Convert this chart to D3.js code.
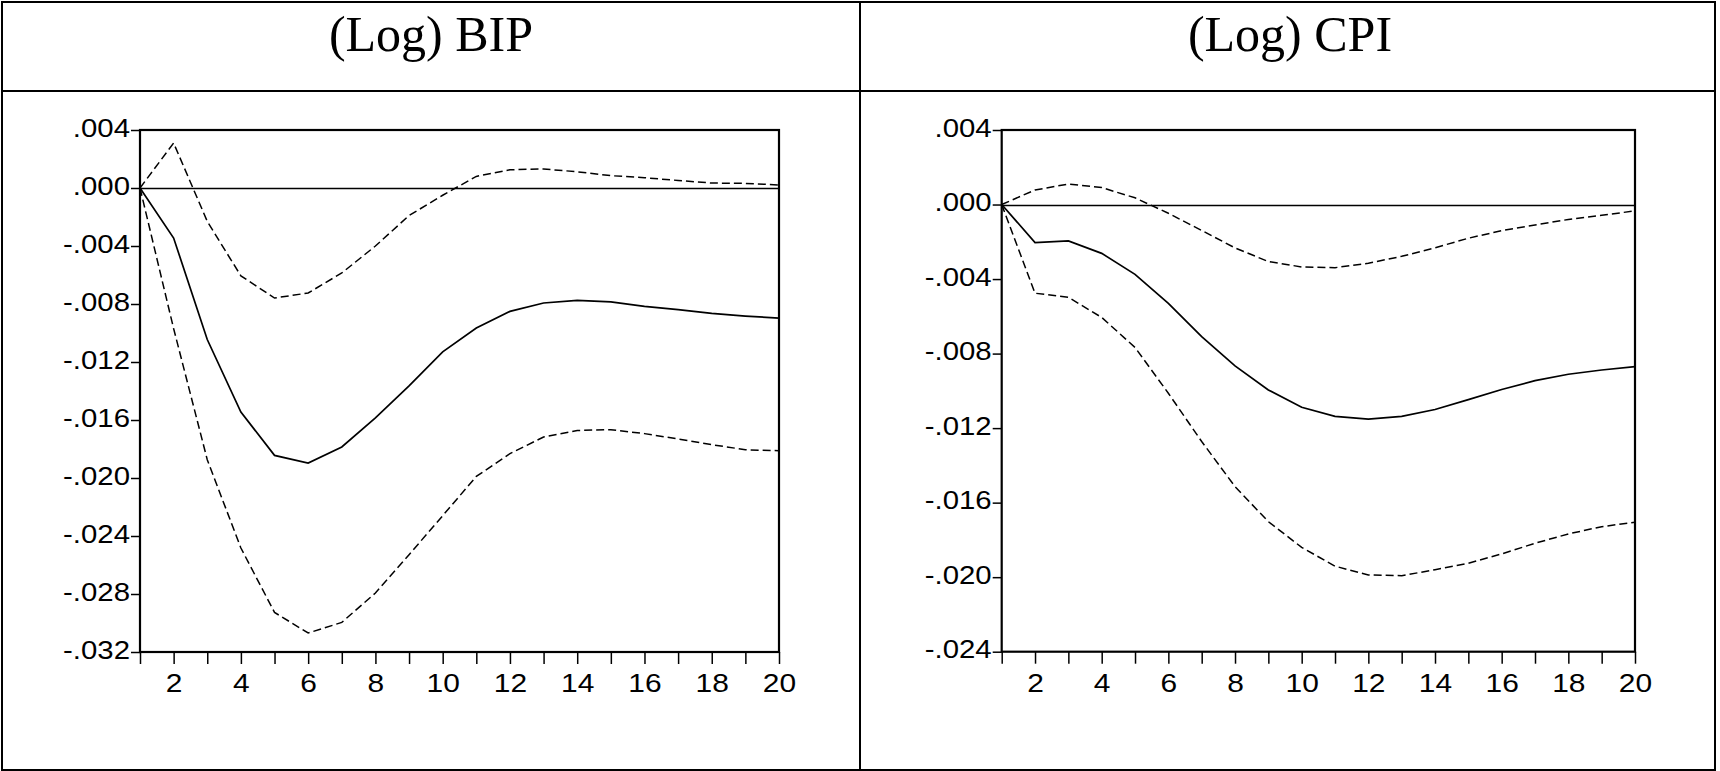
<!DOCTYPE html>
<html>
<head>
<meta charset="utf-8">
<script src="https://cdn.jsdelivr.net/npm/d3@7/dist/d3.min.js"></script>
<style>
  html, body { margin: 0; padding: 0; background: #fff; }
  svg { display: block; }
</style>
</head>
<body>
<svg id="chart" width="1720" height="771"></svg>
<script>
// Impulse responses over 20 periods with confidence bands
const periods = [1, 2, 3, 4, 5, 6, 7, 8, 9, 10, 11, 12, 13, 14, 15, 16, 17, 18, 19, 20];

const bipResponse = [0, -0.00345, -0.01045, -0.01545, -0.01844, -0.01897, -0.01786, -0.01586, -0.01365, -0.0113,
                     -0.00966, -0.00851, -0.00793, -0.00775, -0.00786, -0.00816, -0.00839, -0.00865, -0.00883, -0.00897];
const bipUpper = [0, 0.0031, -0.0023, -0.00606, -0.00759, -0.00724, -0.00586, -0.0040, -0.0019, -0.0005,
                  0.0008, 0.00126, 0.00131, 0.00112, 0.00085, 0.00071, 0.00052, 0.00034, 0.00032, 0.00021];
const bipLower = [0, -0.0097, -0.01874, -0.02483, -0.02927, -0.03069, -0.02996, -0.02793, -0.02529, -0.0226,
                  -0.01989, -0.01832, -0.01717, -0.01672, -0.01667, -0.01694, -0.01731, -0.0177, -0.01805, -0.01812];

const cpiResponse = [0, -0.00204, -0.00195, -0.00262, -0.00375, -0.0053, -0.00709, -0.00866, -0.00995, -0.01088,
                     -0.01137, -0.01152, -0.01137, -0.011, -0.01047, -0.00993, -0.00945, -0.00911, -0.00888, -0.0087];
const cpiUpper = [0, 0.00078, 0.0011, 0.00091, 0.00036, -0.00047, -0.00139, -0.00233, -0.00306, -0.00335,
                  -0.00339, -0.00315, -0.00278, -0.00232, -0.00181, -0.0014, -0.0011, -0.0008, -0.00058, -0.00034];
const cpiLower = [0, -0.00476, -0.00498, -0.00606, -0.00767, -0.01013, -0.01272, -0.01514, -0.01702, -0.0184,
                  -0.01941, -0.01988, -0.01992, -0.0196, -0.01925, -0.01875, -0.01818, -0.01768, -0.01729, -0.01705];

const bipTicks = [0.004, 0, -0.004, -0.008, -0.012, -0.016, -0.020, -0.024, -0.028, -0.032];
const cpiTicks = [0.004, 0, -0.004, -0.008, -0.012, -0.016, -0.020, -0.024];
const periodLabels = [2, 4, 6, 8, 10, 12, 14, 16, 18, 20];

const titles = ["(Log) BIP", "(Log) CPI"];

const svg = d3.select("#chart");

// Table frame: outer box, title row and middle divider
const tbl = { left: 2, top: 2, right: 1715, bottom: 770, split: 860, titleRow: 91 };
const frame = svg.append("g").attr("stroke", "#000").attr("stroke-width", 2).attr("fill", "none");
frame.append("rect")
  .attr("x", tbl.left).attr("y", tbl.top)
  .attr("width", tbl.right - tbl.left).attr("height", tbl.bottom - tbl.top);
frame.append("line").attr("x1", tbl.left).attr("x2", tbl.right).attr("y1", tbl.titleRow).attr("y2", tbl.titleRow);
frame.append("line").attr("x1", tbl.split).attr("x2", tbl.split).attr("y1", tbl.top).attr("y2", tbl.bottom);

// Labels like ".004" / "-.012" (plain hyphen, no leading zero)
const fmt = v => {
  const a = Math.abs(v) < 1e-12 ? 0 : v;
  const body = Math.abs(a).toFixed(3).replace(/^0/, "");
  return (a < 0 ? "-" : "") + body;
};

const panels = [
  { title: titles[0], cx: 431, x0: 140, x1: 779, y0: 130, y1: 652,
    domain: [-0.032, 0.004], ticks: bipTicks,
    mid: bipResponse, lo: bipLower, hi: bipUpper },
  { title: titles[1], cx: 1290, x0: 1001.7, x1: 1635, y0: 130, y1: 651.7,
    domain: [-0.024, 0.004], ticks: cpiTicks,
    mid: cpiResponse, lo: cpiLower, hi: cpiUpper }
];

const labelScale = 1.13;

panels.forEach(p => {
  // Title
  svg.append("text")
    .attr("x", p.cx).attr("y", 51)
    .attr("text-anchor", "middle")
    .attr("font-family", "'Liberation Serif', 'Times New Roman', serif")
    .attr("font-size", 50)
    .attr("fill", "#000")
    .text(p.title);

  const x = d3.scaleLinear().domain([1, 20]).range([p.x0, p.x1]);
  const y = d3.scaleLinear().domain(p.domain).range([p.y1, p.y0]);

  const g = svg.append("g");

  // Zero line
  const y0line = Math.round(y(0)) + 0.5;
  g.append("line")
    .attr("x1", p.x0).attr("x2", p.x1)
    .attr("y1", y0line).attr("y2", y0line)
    .attr("stroke", "#000").attr("stroke-width", 1.3);

  // Y axis
  const ya = g.append("g")
    .attr("transform", `translate(${p.x0},0)`)
    .call(d3.axisLeft(y).tickValues(p.ticks).tickFormat(fmt).tickSize(9).tickPadding(1));
  ya.select(".domain").remove();
  ya.selectAll(".tick line").attr("stroke", "#000").attr("stroke-width", 1.5);
  ya.selectAll(".tick text")
    .attr("font-family", "'Liberation Sans', Arial, sans-serif")
    .attr("font-size", 26)
    .attr("fill", "#000")
    .attr("x", -10 / labelScale)
    .attr("dy", "0.24em")
    .attr("transform", `scale(${labelScale},1)`);

  // X axis
  const xa = g.append("g")
    .attr("transform", `translate(0,${p.y1})`)
    .call(d3.axisBottom(x).tickValues(periods)
      .tickFormat(d => periodLabels.includes(d) ? String(d) : "")
      .tickSize(12).tickPadding(9));
  xa.select(".domain").remove();
  xa.selectAll(".tick line").attr("stroke", "#000").attr("stroke-width", 1.5);
  xa.selectAll(".tick text")
    .attr("font-family", "'Liberation Sans', Arial, sans-serif")
    .attr("font-size", 26.5)
    .attr("fill", "#000")
    .attr("transform", `scale(${labelScale},1)`);

  // Plot frame
  g.append("rect")
    .attr("x", p.x0).attr("y", p.y0)
    .attr("width", p.x1 - p.x0).attr("height", p.y1 - p.y0)
    .attr("fill", "none").attr("stroke", "#000").attr("stroke-width", 2.2);

  const line = d3.line().x((d, i) => x(periods[i])).y(d => y(d));

  // Confidence bands
  [p.hi, p.lo].forEach(band => {
    g.append("path")
      .datum(band)
      .attr("d", line)
      .attr("fill", "none")
      .attr("stroke", "#000")
      .attr("stroke-width", 1.5)
      .attr("stroke-dasharray", "8,4");
  });

  // Point estimate
  g.append("path")
    .datum(p.mid)
    .attr("d", line)
    .attr("fill", "none")
    .attr("stroke", "#000")
    .attr("stroke-width", 1.7);
});
</script>
</body>
</html>
